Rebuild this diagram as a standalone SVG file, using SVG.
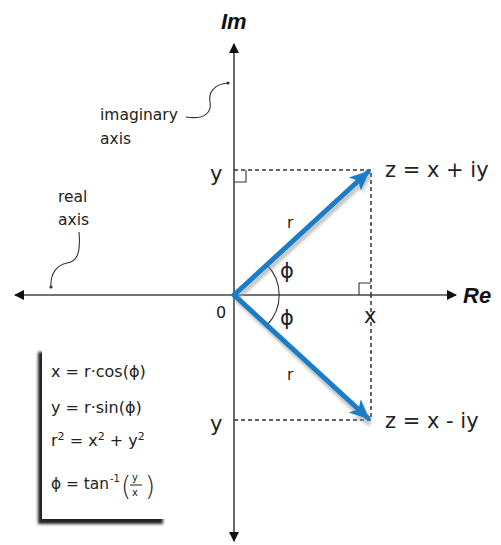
<svg xmlns="http://www.w3.org/2000/svg" width="501" height="545" viewBox="0 0 501 545">
<style>
.ax{stroke:#444;stroke-width:1.6;fill:none}
.dash{stroke:#333;stroke-width:1.5;stroke-dasharray:4 3;fill:none}
.thin{stroke:#333;stroke-width:1.1;fill:none}
.lbl{font-family:"DejaVu Sans","Liberation Sans",sans-serif;fill:#222}
.big{font-size:21px}
.med{font-size:16px}
.sm{font-size:15.5px}
.bi{font-family:"Liberation Sans",Arial,sans-serif;font-weight:bold;font-style:italic;font-size:22px;fill:#111}
.vec{stroke:#1b7dc8;stroke-width:5;fill:none;stroke-linecap:round}
.vsh{stroke:#999;stroke-width:5;fill:none;opacity:0.6}
</style>
<defs>
<marker id="ah" markerWidth="10" markerHeight="10" refX="9" refY="5" orient="auto" markerUnits="userSpaceOnUse"><path d="M0,0 L10,5 L0,10 Z" fill="#111"/></marker>
<marker id="bh" markerWidth="22" markerHeight="20" refX="18" refY="10" orient="auto" markerUnits="userSpaceOnUse"><path d="M0,1 L20,10 L0,19 L5,10 Z" fill="#1b7dc8"/></marker>
<marker id="sh" markerWidth="22" markerHeight="20" refX="18" refY="10" orient="auto" markerUnits="userSpaceOnUse"><path d="M0,1 L20,10 L0,19 L5,10 Z" fill="#999" opacity="0.6"/></marker>
<filter id="blur"><feGaussianBlur stdDeviation="1.5"/></filter>
</defs>

<g id="connectors">
<line id="real-axis" class="ax" x1="234" y1="295" x2="15" y2="295" marker-end="url(#ah)"/>
<line class="ax" x1="234" y1="295" x2="456" y2="295" marker-end="url(#ah)"/>
<line id="imag-axis" class="ax" x1="234" y1="295" x2="234" y2="44" marker-end="url(#ah)"/>
<line class="ax" x1="234" y1="295" x2="234" y2="541" marker-end="url(#ah)"/>
<path class="dash" d="M234,170 H371 V295"/>
<path class="dash" d="M234,420 H371 V295"/>
<path class="thin" d="M234,182 H246 V170"/>
<path class="thin" d="M359,295 V283 H371"/>
<path class="thin" d="M267,265 A43,43 0 0 1 267,325"/>
<path class="thin" d="M186,117 C205,120 212,112 210,102 C208,92 215,84 228,83"/>
<circle cx="228" cy="83" r="1.6" fill="#333"/>
<path class="thin" d="M79,232 C81,255 76,262 67,263 C58,265 50,272 51,287"/>
<circle cx="51" cy="287" r="1.6" fill="#333"/>
<g filter="url(#blur)">
<line class="vsh" x1="236" y1="299" x2="370" y2="176" marker-end="url(#sh)"/>
<line class="vsh" x1="236" y1="299" x2="370" y2="424" marker-end="url(#sh)"/>
</g>
<line class="vec" x1="234" y1="295" x2="368" y2="172" marker-end="url(#bh)"/>
<line class="vec" x1="234" y1="295" x2="368" y2="418" marker-end="url(#bh)"/>
</g>

<g id="label-im"><text class="bi" x="221" y="29">Im</text></g>
<g id="label-re"><text class="bi" x="463" y="303">Re</text></g>
<g id="label-imaginary-axis"><text class="lbl sm" x="100" y="120">imaginary</text><text class="lbl sm" x="100" y="144">axis</text></g>
<g id="label-real-axis"><text class="lbl sm" x="58" y="202">real</text><text class="lbl sm" x="58" y="225">axis</text></g>
<g id="label-origin"><text class="lbl med" x="216" y="318">0</text></g>
<g id="label-y-top"><text class="lbl big" x="210" y="181">y</text></g>
<g id="label-y-bottom"><text class="lbl big" x="210" y="431">y</text></g>
<g id="label-x"><text class="lbl big" x="364" y="323">x</text></g>
<g id="label-z-plus"><text class="lbl big" x="385" y="177">z = x + iy</text></g>
<g id="label-z-minus"><text class="lbl big" x="385" y="428">z = x - iy</text></g>
<g id="label-r"><text class="lbl sm" x="287" y="228">r</text><text class="lbl sm" x="287" y="380">r</text></g>
<g id="label-phi"><text class="lbl big" x="280" y="278">ϕ</text><text class="lbl big" x="280" y="325">ϕ</text></g>

<g id="formula-box">
<rect x="38" y="352" width="125" height="172" fill="#222" filter="url(#blur)"/>
<rect x="42" y="348" width="124" height="171" fill="#fff"/>
<text class="lbl med" x="51" y="377">x = r·cos(ϕ)</text>
<text class="lbl med" x="51" y="413">y = r·sin(ϕ)</text>
<text class="lbl med" x="51" y="446">r<tspan dy="-6" font-size="11">2</tspan><tspan dy="6"> = x</tspan><tspan dy="-6" font-size="11">2</tspan><tspan dy="6"> + y</tspan><tspan dy="-6" font-size="11">2</tspan></text>
<text class="lbl med" x="51" y="489" textLength="58" lengthAdjust="spacingAndGlyphs">ϕ = tan</text>
<text class="lbl" font-size="10" x="110" y="482">-1</text>
<text class="lbl" font-size="26" x="121" y="495" font-weight="200">(</text>
<text class="lbl" font-size="26" x="145" y="495" font-weight="200">)</text>
<text class="lbl" font-size="10" x="132" y="481">y</text>
<line class="thin" x1="130" y1="485" x2="142" y2="485"/>
<text class="lbl" font-size="10" x="132" y="496">x</text>
</g>
</svg>
